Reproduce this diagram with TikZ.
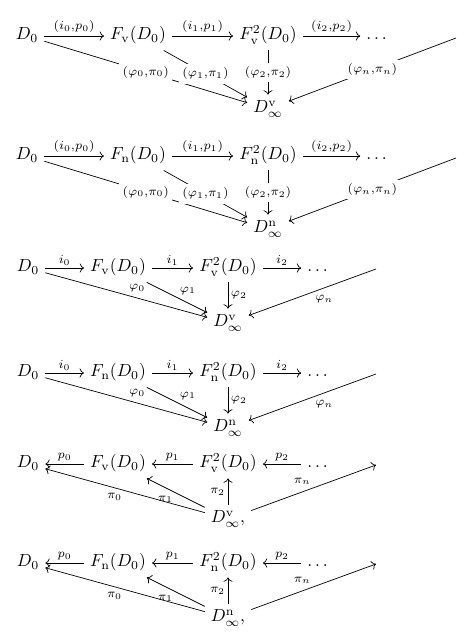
\documentclass[tikz,border=0pt]{standalone}
\usepackage{amssymb,amsmath}
\usepackage{tikz}
\usetikzlibrary{arrows.meta}

\begin{document}
\begin{tikzpicture}[x=0.5714pt, y=-0.5714pt, >={Computer Modern Rightarrow},
    obj/.style={text height=1.6ex, text depth=0.6ex, inner sep=3.3pt},
    lab/.style={inner sep=1.5pt},
    desc/.style={fill=white, inner sep=2pt}]
    \useasboundingbox (0,0) rectangle (468,641);

    \node[obj] at (27,36) (A0) {$D_0$};
    \node[obj] at (138,36) (A1) {$F_{\mathrm{v}}(D_0)$};
    \node[obj] at (268,36) (A2) {$F^2_{\mathrm{v}}(D_0)$};
    \node[obj] at (378,36) (A3) {$\dots$};
    \coordinate (A4) at (456,38);
    \node[obj] at (268,109) (A5) {$D^{\mathrm{v}}_{\infty}$};
    \path [->] (A0) edge node[lab, above] {$\scriptstyle (i_0,p_0)$} (A1);
    \path [->] (A1) edge node[lab, above] {$\scriptstyle (i_1,p_1)$} (A2);
    \path [->] (A2) edge node[lab, above] {$\scriptstyle (i_2,p_2)$} (A3);
    \path [->] (A0) edge node[desc] {$\scriptstyle (\varphi_0,\pi_0)$} (A5);
    \path [->] (A1) edge node[desc] {$\scriptstyle (\varphi_1,\pi_1)$} (A5);
    \path [->] (A2) edge node[desc] {$\scriptstyle (\varphi_2,\pi_2)$} (A5);
    \path [->] (A4) edge node[desc] {$\scriptstyle (\varphi_n,\pi_n)$} (A5);

    \node[obj] at (27,156) (B0) {$D_0$};
    \node[obj] at (138,156) (B1) {$F_{\mathrm{n}}(D_0)$};
    \node[obj] at (268,156) (B2) {$F^2_{\mathrm{n}}(D_0)$};
    \node[obj] at (378,156) (B3) {$\dots$};
    \coordinate (B4) at (456,158);
    \node[obj] at (268,229) (B5) {$D^{\mathrm{n}}_{\infty}$};
    \path [->] (B0) edge node[lab, above] {$\scriptstyle (i_0,p_0)$} (B1);
    \path [->] (B1) edge node[lab, above] {$\scriptstyle (i_1,p_1)$} (B2);
    \path [->] (B2) edge node[lab, above] {$\scriptstyle (i_2,p_2)$} (B3);
    \path [->] (B0) edge node[desc] {$\scriptstyle (\varphi_0,\pi_0)$} (B5);
    \path [->] (B1) edge node[desc] {$\scriptstyle (\varphi_1,\pi_1)$} (B5);
    \path [->] (B2) edge node[desc] {$\scriptstyle (\varphi_2,\pi_2)$} (B5);
    \path [->] (B4) edge node[desc] {$\scriptstyle (\varphi_n,\pi_n)$} (B5);

    \node[obj] at (28,268) (C0) {$D_0$};
    \node[obj] at (118,268) (C1) {$F_{\mathrm{v}}(D_0)$};
    \node[obj] at (228,268) (C2) {$F^2_{\mathrm{v}}(D_0)$};
    \node[obj] at (319,268) (C3) {$\dots$};
    \coordinate (C4) at (376,269);
    \node[obj] at (228,323) (C5) {$D^{\mathrm{v}}_{\infty}$};
    \path [->] (C0) edge node[lab, above] {$\scriptstyle i_0$} (C1);
    \path [->] (C1) edge node[lab, above] {$\scriptstyle i_1$} (C2);
    \path [->] (C2) edge node[lab, above] {$\scriptstyle i_2$} (C3);
    \path [->] (C0) edge node[lab, auto] {$\scriptstyle \varphi_0$} (C5);
    \path [->] (C1) edge node[lab, auto] {$\scriptstyle \varphi_1$} (C5);
    \path [->] (C2) edge node[lab, auto] {$\scriptstyle \varphi_2$} (C5);
    \path [->] (C4) edge node[lab, auto] {$\scriptstyle \varphi_n$} (C5);

    \node[obj] at (28,373) (D0) {$D_0$};
    \node[obj] at (118,373) (D1) {$F_{\mathrm{n}}(D_0)$};
    \node[obj] at (228,373) (D2) {$F^2_{\mathrm{n}}(D_0)$};
    \node[obj] at (319,373) (D3) {$\dots$};
    \coordinate (D4) at (376,374);
    \node[obj] at (228,428) (D5) {$D^{\mathrm{n}}_{\infty}$};
    \path [->] (D0) edge node[lab, above] {$\scriptstyle i_0$} (D1);
    \path [->] (D1) edge node[lab, above] {$\scriptstyle i_1$} (D2);
    \path [->] (D2) edge node[lab, above] {$\scriptstyle i_2$} (D3);
    \path [->] (D0) edge node[lab, auto] {$\scriptstyle \varphi_0$} (D5);
    \path [->] (D1) edge node[lab, auto] {$\scriptstyle \varphi_1$} (D5);
    \path [->] (D2) edge node[lab, auto] {$\scriptstyle \varphi_2$} (D5);
    \path [->] (D4) edge node[lab, auto] {$\scriptstyle \varphi_n$} (D5);

    \node[obj] at (28,464) (E0) {$D_0$};
    \node[obj] at (118,464) (E1) {$F_{\mathrm{v}}(D_0)$};
    \node[obj] at (228,464) (E2) {$F^2_{\mathrm{v}}(D_0)$};
    \node[obj] at (319,464) (E3) {$\dots$};
    \coordinate (E4) at (376,465);
    \node[obj] at (228,519) (E5) {$D^{\mathrm{v}}_{\infty},$};
    \path [->] (E1) edge node[lab, above] {$\scriptstyle p_0$} (E0);
    \path [->] (E2) edge node[lab, above] {$\scriptstyle p_1$} (E1);
    \path [->] (E3) edge node[lab, above] {$\scriptstyle p_2$} (E2);
    \path [->] (E5) edge node[lab, auto] {$\scriptstyle \pi_0$} (E0);
    \path [->] (E5) edge node[lab, auto] {$\scriptstyle \pi_1$} (E1);
    \path [->] (E5) edge node[lab, auto] {$\scriptstyle \pi_2$} (E2);
    \path [->] (E5) edge node[lab, auto] {$\scriptstyle \pi_n$} (E4);

    \node[obj] at (28,563) (F0) {$D_0$};
    \node[obj] at (118,563) (F1) {$F_{\mathrm{n}}(D_0)$};
    \node[obj] at (228,563) (F2) {$F^2_{\mathrm{n}}(D_0)$};
    \node[obj] at (319,563) (F3) {$\dots$};
    \coordinate (F4) at (376,564);
    \node[obj] at (228,618) (F5) {$D^{\mathrm{n}}_{\infty},$};
    \path [->] (F1) edge node[lab, above] {$\scriptstyle p_0$} (F0);
    \path [->] (F2) edge node[lab, above] {$\scriptstyle p_1$} (F1);
    \path [->] (F3) edge node[lab, above] {$\scriptstyle p_2$} (F2);
    \path [->] (F5) edge node[lab, auto] {$\scriptstyle \pi_0$} (F0);
    \path [->] (F5) edge node[lab, auto] {$\scriptstyle \pi_1$} (F1);
    \path [->] (F5) edge node[lab, auto] {$\scriptstyle \pi_2$} (F2);
    \path [->] (F5) edge node[lab, auto] {$\scriptstyle \pi_n$} (F4);
\end{tikzpicture}
\end{document}
